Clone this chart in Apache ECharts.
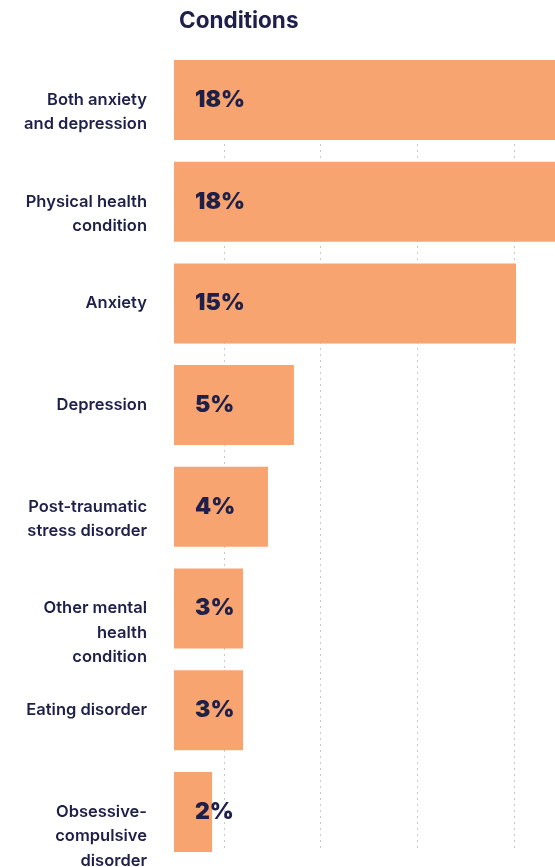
<!DOCTYPE html>
<html>
<head>
<meta charset="utf-8">
<script src="https://cdn.jsdelivr.net/npm/echarts@6/dist/echarts.min.js"></script>
<style>
html,body{margin:0;padding:0;background:#fff;}
#c{width:555px;height:867px;}
</style>
</head>
<body>
<div id="c"></div>
<script>
var titleText = 'Conditions';
var categories = [
  'Both anxiety\nand depression',
  'Physical health\ncondition',
  'Anxiety',
  'Depression',
  'Post-traumatic\nstress disorder',
  'Other mental\nhealth\ncondition',
  'Eating disorder',
  'Obsessive-\ncompulsive\ndisorder'
];
var values = [18.2, 17.9, 15.0, 5.26, 4.12, 3.03, 3.03, 1.67];
var valueLabels = ['18%', '18%', '15%', '5%', '4%', '3%', '3%', '2%'];

var navy = '#1E2049';
var orange = '#F8A470';
var FONT = 'Inter';

var chart = echarts.init(document.getElementById('c'), null, {renderer: 'canvas'});
chart.setOption({
  animation: false,
  backgroundColor: '#fff',
  title: {
    text: titleText,
    left: 174,
    top: 5,
    textStyle: {color: navy, fontFamily: FONT, fontWeight: 'bold', fontSize: 22.5}
  },
  grid: [
    {left: 174, right: 0, top: 49.15, bottom: 4.25, outerBoundsMode: 'none', containLabel: false},
    {left: 127.3, right: 0, top: 60, bottom: 15, outerBoundsMode: 'none', containLabel: false}
  ],
  xAxis: [
    {gridIndex: 0, type: 'value', min: 0, max: 16.71, show: false},
    {gridIndex: 1, type: 'value', min: 0, max: 4.423, interval: 1,
     axisLine: {show: false}, axisTick: {show: false}, axisLabel: {show: false},
     splitLine: {show: true, showMinLine: false, showMaxLine: false,
       lineStyle: {color: '#c9c9c9', width: 1, type: [2, 4]}}}
  ],
  yAxis: [
    {gridIndex: 0, type: 'category', data: categories, inverse: true,
     axisLine: {show: false}, axisTick: {show: false}, splitLine: {show: false},
     axisLabel: {
       margin: 27, color: navy, fontFamily: FONT, fontWeight: 600, fontSize: 16.5,
       lineHeight: 24.5, align: 'right',
       formatter: function (v) {
         var n = v.split('\n').length;
         var pre = '';
         for (var i = 1; i < n; i++) pre += ' \n';
         return pre + v;
       }
     }},
    {gridIndex: 1, type: 'category', data: ['a'], show: false}
  ],
  series: [{
    type: 'bar',
    xAxisIndex: 0, yAxisIndex: 0,
    data: values,
    barCategoryGap: '21.3%',
    itemStyle: {color: orange},
    z: 3,
    label: {
      show: true, position: 'insideLeft', distance: 21,
      color: navy, fontFamily: FONT, fontWeight: 900, fontSize: 23,
      formatter: function (p) { return valueLabels[p.dataIndex]; }
    }
  }]
});
</script>
</body>
</html>
